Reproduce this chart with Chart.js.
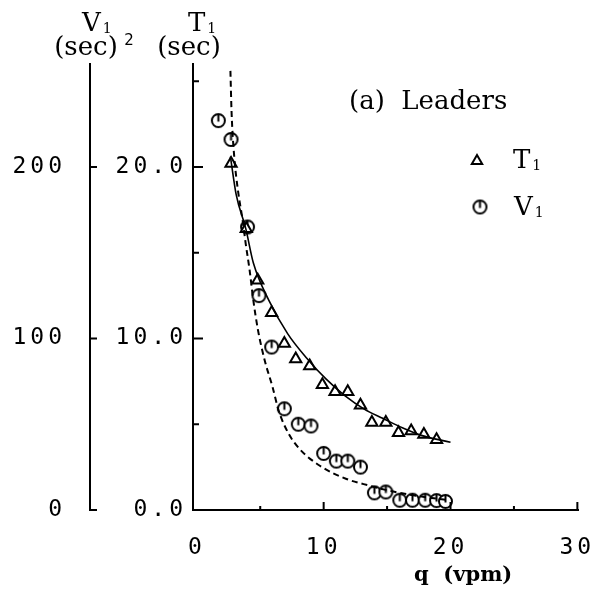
<!DOCTYPE html>
<html>
<head>
<meta charset="utf-8">
<script src="https://cdn.jsdelivr.net/npm/chart.js@4.4.0/dist/chart.umd.min.js"></script>
<style>html,body{margin:0;padding:0;background:#fff}</style>
</head>
<body>
<canvas id="leaders" width="602" height="589"></canvas>
<script>
// measured points: q (vpm) against T1 (sec)
var qT = [2.7, 3.9, 4.8, 5.9, 6.9, 7.8, 8.9, 9.9, 10.9, 11.9, 12.9, 13.8, 14.9, 15.9, 16.9, 17.9, 18.9];
var T1 = [20.2, 16.4, 13.4, 11.5, 9.7, 8.8, 8.4, 7.3, 6.9, 6.9, 6.1, 5.1, 5.1, 4.5, 4.6, 4.4, 4.1];
// measured points: q (vpm) against V1 (sec^2)
var qV = [1.7, 2.7, 4.0, 4.9, 5.9, 6.9, 8.0, 9.0, 10.0, 11.0, 11.9, 12.9, 14.0, 14.9, 16.0, 17.0, 18.0, 18.9, 19.6];
var V1 = [227, 216, 165, 125, 95, 59, 50, 49, 33, 28.5, 28.5, 25, 10, 10.5, 5.7, 5.7, 5.7, 5.5, 5];
// fitted curves
var fitQT = [2.65, 3.1, 3.86, 4.46, 5.66, 7.17, 8.67, 10.18, 11.69, 13.2, 14.7, 16.2, 17.7, 20];
var fitT = [20.6, 18.4, 16.4, 14.4, 12.25, 10.27, 8.85, 7.64, 6.65, 5.88, 5.33, 4.79, 4.35, 3.95];
var fitQV = [2.65, 2.74, 2.95, 3.25, 3.61, 3.86, 4.16, 4.46, 4.82, 5.36, 5.96, 6.45, 7.2, 8.1, 9.7, 11.8, 13.6, 15.2, 16.8, 18.3, 19.8];
var fitV = [256, 232, 206, 186, 169, 155, 140, 122, 105, 87, 72, 58, 45, 35.6, 25.8, 18.1, 14.2, 11.2, 8.9, 7.2, 5.8];
// ticks
var xTicks = [0, 5, 10, 15, 20, 25, 30];
var tTicks = [0, 5, 10, 15, 20, 25];
var vTicks = [0, 100, 200];

function pts(xs, ys) {
  return xs.map(function (x, i) { return {x: x, y: ys[i]}; });
}

// open circle with a short stem, like the printed symbol
function circleMark(r) {
  var c = document.createElement('canvas');
  var s = 2 * r + 4;
  c.width = s; c.height = s;
  var g = c.getContext('2d');
  g.strokeStyle = '#000';
  g.lineWidth = 2;
  g.fillStyle = '#fff';
  g.beginPath(); g.arc(s / 2, s / 2, r, 0, Math.PI * 2); g.fill(); g.stroke();
  g.beginPath(); g.moveTo(s / 2, s / 2 - r); g.lineTo(s / 2, s / 2 + 1); g.stroke();
  return c;
}
var circ = circleMark(6.5);

var numFont = {family: 'DejaVu Sans Mono', size: 23};

function drawSub(ctx, main, x, y, size) {
  ctx.font = size + 'px "DejaVu Serif"';
  ctx.textAlign = 'left';
  ctx.fillText(main, x, y);
  var w = ctx.measureText(main).width;
  ctx.font = Math.round(size * 0.55) + 'px "DejaVu Serif"';
  ctx.fillText('1', x + w + 2, y + 2);
}

// fixed axis boxes so the plot area sits where the printed one does
function noPad(s) {
  s.paddingLeft = 0; s.paddingRight = 0; s.paddingTop = 0; s.paddingBottom = 0;
}

var paperInk = {
  id: 'paperInk',
  beforeDraw: function (chart) {
    chart.ctx.letterSpacing = '4px';
  },
  afterDraw: function (chart) {
    var ctx = chart.ctx, a = chart.chartArea;
    var sx = chart.scales.x, st = chart.scales.yT, sv = chart.scales.yV;
    ctx.save();
    ctx.letterSpacing = '0px';
    ctx.strokeStyle = '#000';
    ctx.fillStyle = '#000';
    ctx.lineWidth = 2;
    ctx.beginPath();
    xTicks.forEach(function (v) {
      if (v === 0) return;
      var px = sx.getPixelForValue(v);
      ctx.moveTo(px, a.bottom);
      ctx.lineTo(px, a.bottom - (v % 10 === 0 ? 8 : 4));
    });
    tTicks.forEach(function (v) {
      if (v === 0) return;
      var py = st.getPixelForValue(v);
      ctx.moveTo(a.left, py);
      ctx.lineTo(a.left + (v % 10 === 0 ? 10 : 6), py);
    });
    vTicks.forEach(function (v) {
      var py = sv.getPixelForValue(v);
      ctx.moveTo(sv.right, py);
      ctx.lineTo(sv.right + 7, py);
    });
    ctx.stroke();

    ctx.textBaseline = 'alphabetic';
    // axis headings
    drawSub(ctx, 'V', 82, 31, 26);
    ctx.font = '26px "DejaVu Serif"';
    ctx.textAlign = 'center';
    ctx.fillText('(sec)', 86, 55);
    ctx.font = '15px "DejaVu Sans"';
    ctx.fillText('2', 129, 45);
    drawSub(ctx, 'T', 188, 31, 26);
    ctx.font = '26px "DejaVu Serif"';
    ctx.textAlign = 'center';
    ctx.fillText('(sec)', 189, 55);
    // panel label and key
    ctx.font = '26px "DejaVu Serif"';
    ctx.textAlign = 'left';
    ctx.fillText('(a)  Leaders', 349, 109);
    ctx.fillStyle = '#fff';
    Chart.helpers.drawPoint(ctx, {pointStyle: 'triangle', radius: 6, borderWidth: 2}, 477, 161);
    ctx.fillStyle = '#000';
    drawSub(ctx, 'T', 513, 168, 26);
    ctx.drawImage(circ, 480 - circ.width / 2, 207 - circ.height / 2);
    drawSub(ctx, 'V', 514, 215, 26);
    ctx.font = 'bold 21px "DejaVu Serif"';
    ctx.textAlign = 'left';
    ctx.fillText('q  (vpm)', 414, 581);
    ctx.restore();
  }
};

var ctx = document.getElementById('leaders').getContext('2d');
var leadersChart = new Chart(ctx, {
  type: 'scatter',
  data: {
    datasets: [
      {
        label: 'T1 fit',
        data: pts(fitQT, fitT),
        yAxisID: 'yT',
        showLine: true,
        borderColor: '#000',
        borderWidth: 1.6,
        pointRadius: 0,
        cubicInterpolationMode: 'monotone'
      },
      {
        label: 'V1 fit',
        data: pts(fitQV, fitV),
        yAxisID: 'yV',
        showLine: true,
        borderColor: '#000',
        borderWidth: 2,
        borderDash: [6, 4],
        pointRadius: 0,
        cubicInterpolationMode: 'monotone'
      },
      {
        label: 'T1',
        data: pts(qT, T1),
        yAxisID: 'yT',
        pointStyle: 'triangle',
        pointRadius: 6.5,
        borderColor: '#000',
        borderWidth: 2,
        backgroundColor: '#fff'
      },
      {
        label: 'V1',
        data: pts(qV, V1),
        yAxisID: 'yV',
        pointStyle: circ,
        pointRadius: 6.5
      }
    ]
  },
  options: {
    responsive: false,
    animation: false,
    devicePixelRatio: 1,
    layout: {padding: {left: 0, right: 24, top: 64, bottom: 0}},
    plugins: {legend: {display: false}, tooltip: {enabled: false}},
    scales: {
      x: {
        type: 'linear',
        position: 'bottom',
        min: -0.3,
        max: 30.05,
        afterBuildTicks: function (s) { s.ticks = xTicks.map(function (v) { return {value: v}; }); },
        afterFit: function (s) { s.height = 79; noPad(s); },
        grid: {display: false, drawTicks: false},
        border: {color: '#000', width: 2},
        ticks: {
          color: '#000', font: numFont, padding: 24, maxRotation: 0, autoSkip: false,
          callback: function (v) { return v % 10 === 0 ? String(v) : ''; }
        }
      },
      yT: {
        type: 'linear',
        position: 'left',
        weight: 0,
        min: 0,
        max: 26,
        afterBuildTicks: function (s) { s.ticks = tTicks.map(function (v) { return {value: v}; }); },
        afterFit: function (s) { s.width = 103; noPad(s); },
        grid: {display: false, drawTicks: false},
        border: {color: '#000', width: 2},
        ticks: {
          color: '#000', font: numFont, padding: 6, autoSkip: false,
          callback: function (v) { return v % 10 === 0 ? v.toFixed(1) : ''; }
        }
      },
      yV: {
        type: 'linear',
        position: 'left',
        weight: 1,
        min: 0,
        max: 260,
        afterBuildTicks: function (s) { s.ticks = vTicks.map(function (v) { return {value: v}; }); },
        afterFit: function (s) { s.width = 90; noPad(s); },
        grid: {display: false, drawTicks: false},
        border: {color: '#000', width: 2},
        ticks: {
          color: '#000', font: numFont, padding: 24, autoSkip: false,
          callback: function (v) { return String(v); }
        }
      }
    }
  },
  plugins: [paperInk]
});
</script>
</body>
</html>
